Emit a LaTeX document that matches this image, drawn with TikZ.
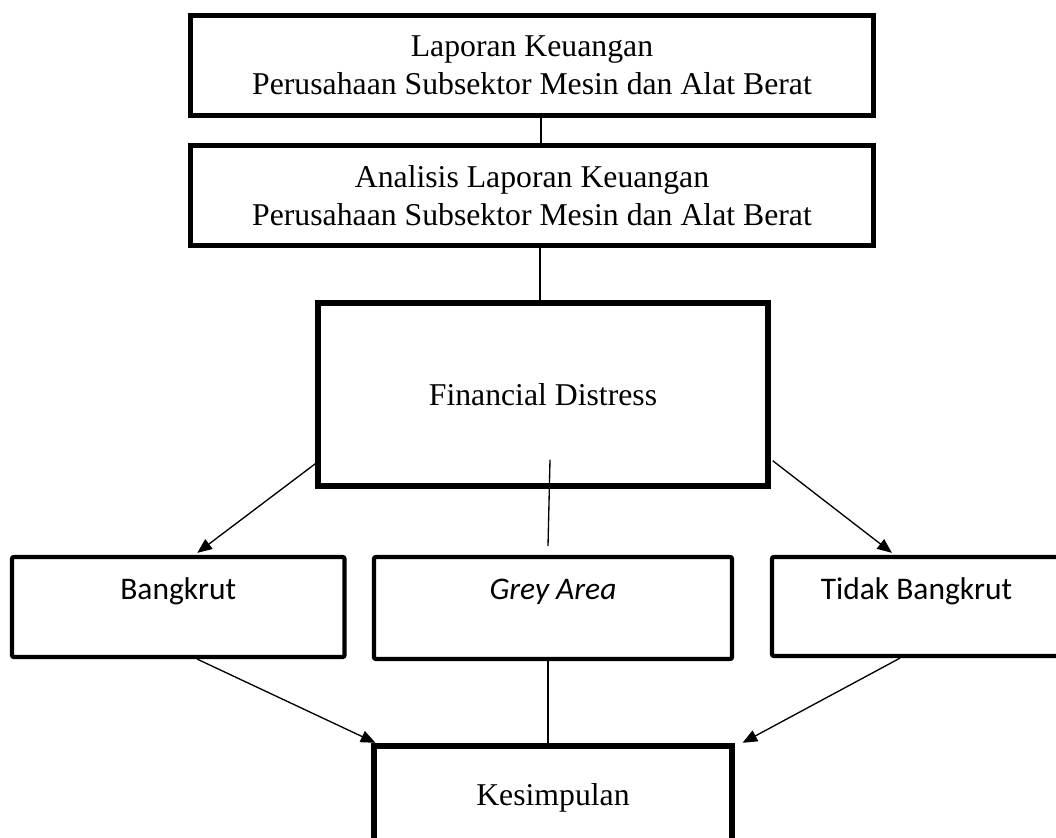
\documentclass[tikz,border=0pt]{standalone}
\usepackage{fontspec}
\setmainfont{Liberation Serif}
\newfontfamily\calibri{Carlito}
\usetikzlibrary{arrows.meta}

\begin{document}
\begin{tikzpicture}[x=0.75pt, y=-0.75pt,
    bigbox/.style={draw, line width=3.8pt, inner sep=0pt, align=center, font=\fontsize{23.8}{28.3}\selectfont},
    smallbox/.style={draw, line width=3.2pt, rounded corners=1.5pt, inner sep=0pt, font=\calibri\fontsize{23.6}{28}\selectfont, text height=31.5pt},
    conn/.style={line width=1pt},
    arr/.style={line width=1pt, -{Triangle[length=11pt,width=9pt]}}]
    \clip (0,0) rectangle (1056,838);

    \node[bigbox, minimum width=512pt, minimum height=75pt] (lap) at (532,65.5) {Laporan Keuangan\\Perusahaan Subsektor Mesin dan Alat Berat};
    \node[bigbox, minimum width=512pt, minimum height=75pt] (ana) at (532,195.5) {Analisis Laporan Keuangan\\Perusahaan Subsektor Mesin dan Alat Berat};
    \node[bigbox, line width=4.1pt, minimum width=337.5pt, minimum height=137.25pt] (fd) at (543,394.5) {Financial Distress};

    \node[smallbox, minimum width=249.4pt, minimum height=75pt, text depth=43.5pt] (bang) at (178.25,607) {Bangkrut};
    \node[smallbox, minimum width=268.5pt, minimum height=76.5pt, text depth=45pt] (grey) at (553,608) {\itshape Grey Area};
    \node[smallbox, minimum width=216.75pt, minimum height=74.25pt, text depth=42pt] (tidak) at (916.5,606.5) {Tidak Bangkrut};

    \node[bigbox, minimum width=268.5pt, minimum height=73.5pt, text height=44.25pt, text depth=29.25pt] (kes) at (553,795) {Kesimpulan};

    \draw[conn] ([xshift=6.75pt]lap.south) -- ([xshift=6.75pt]ana.north);
    \draw[conn] ([xshift=6pt]ana.south) -- ([xshift=6pt]ana.south |- fd.north);

    \draw[arr] ([xshift=3pt,yshift=21pt]fd.south west) -- ([xshift=14.25pt,yshift=1.5pt]bang.north);
    \draw[conn] ([xshift=5.25pt,yshift=21.75pt]fd.south) -- ([xshift=-3.75pt,yshift=6.75pt]grey.north);
    \draw[arr] ([xshift=1.5pt,yshift=21pt]fd.south east) -- ([xshift=-18.4pt,yshift=1.5pt]tidak.north);

    \draw[arr] ([xshift=14.25pt]bang.south) -- ([xshift=3pt,yshift=0.5pt]kes.north west);
    \draw[conn] ([xshift=-3.75pt]grey.south) -- ([xshift=-3.75pt]kes.north);
    \draw[arr] ([xshift=-12.4pt]tidak.south) -- ([xshift=6pt,yshift=0.5pt]kes.north east);
\end{tikzpicture}
\end{document}
